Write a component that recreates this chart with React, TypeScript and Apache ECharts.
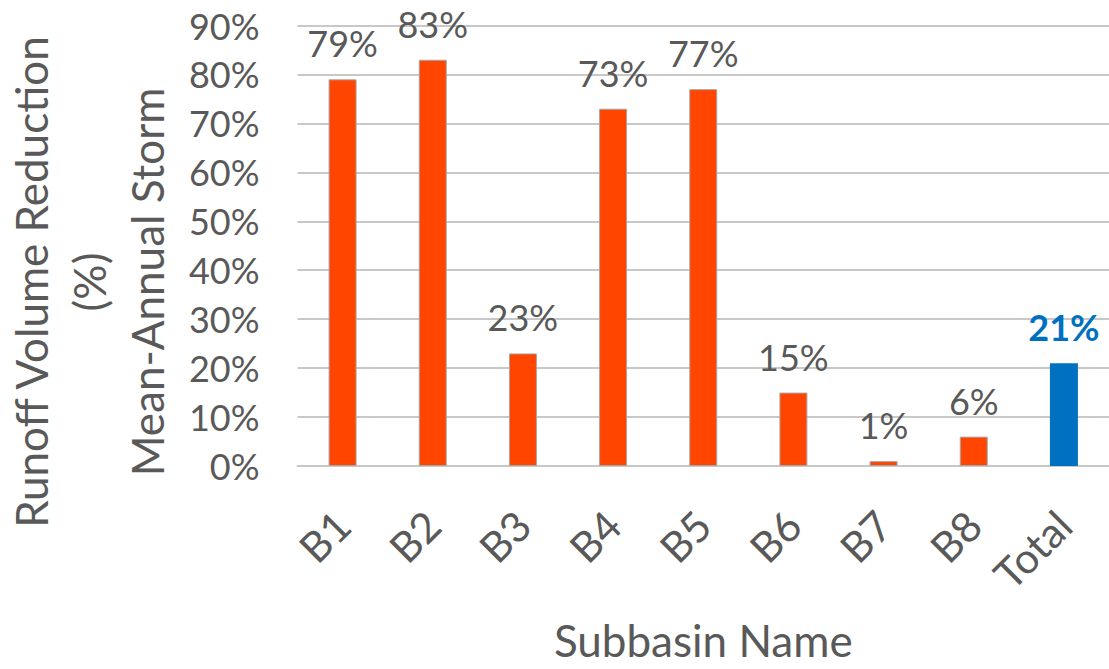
import React, { useEffect, useRef } from "react";
import * as echarts from "echarts";

const categories = ["B1", "B2", "B3", "B4", "B5", "B6", "B7", "B8", "Total"];
const values = [79, 83, 23, 73, 77, 15, 1, 6, 21];
const yTicks = [0, 10, 20, 30, 40, 50, 60, 70, 80, 90];
const yTitleLines = ["Runoff Volume Reduction", "(%)", "Mean-Annual Storm"];
const xTitle = "Subbasin Name";

const FONT = "Lato, 'Open Sans', sans-serif";
const GRAY = "#595959";
const ORANGE = "#FF4500";
const BLUE = "#0070C0";

export default function App() {
  const ref = useRef<HTMLDivElement>(null);
  useEffect(() => {
    if (!ref.current) return;
    const chart = echarts.init(ref.current, undefined, { renderer: "svg" });
    const lineX = [31, 89, 147];
    chart.setOption({
      animation: false,
      textStyle: { fontFamily: FONT },
      grid: { left: 297.5, right: -3, top: 25.5, bottom: 203, containLabel: false },
      xAxis: {
        type: "category",
        data: categories,
        name: xTitle,
        nameLocation: "middle",
        nameGap: 152,
        nameTextStyle: { fontSize: 44, color: GRAY, fontFamily: FONT },
        axisLine: { show: true, lineStyle: { color: "#c8c8c8", width: 2 } },
        axisTick: { show: false },
        axisLabel: { rotate: 45, fontSize: 42, color: GRAY, fontFamily: FONT, margin: 52, interval: 0 },
      },
      yAxis: {
        type: "value",
        min: 0,
        max: 90,
        interval: 10,
        axisLine: { show: false },
        axisTick: { show: false },
        splitLine: { lineStyle: { color: "#c8c8c8", width: 2 } },
        axisLabel: {
          fontSize: 36,
          color: GRAY,
          fontFamily: FONT,
          margin: 38,
          formatter: (v: number) => (yTicks.includes(v) ? v + "%" : ""),
        },
      },
      graphic: yTitleLines.map((t, i) => ({
        type: "text",
        x: lineX[i],
        y: 282,
        rotation: Math.PI / 2,
        style: {
          text: t,
          fill: GRAY,
          font: `44px ${FONT}`,
          align: "center",
          verticalAlign: "middle",
        },
      })),
      series: [
        {
          type: "bar",
          barWidth: 28,
          data: values.map((v, i) => {
            const isTotal = categories[i] === "Total";
            return {
              value: v,
              itemStyle: {
                color: isTotal ? BLUE : ORANGE,
                borderColor: "#a6a6a6",
                borderWidth: isTotal ? 0 : 1,
              },
              label: isTotal
                ? { color: BLUE, fontWeight: "bold" }
                : undefined,
            };
          }),
          label: {
            show: true,
            position: "top",
            distance: 18,
            fontSize: 36,
            color: GRAY,
            fontFamily: FONT,
            formatter: (p: any) => p.value + "%",
          },
        },
      ],
    });
    return () => chart.dispose();
  }, []);
  return <div ref={ref} style={{ width: 1109, height: 669, position: "absolute", left: 0, top: 0 }} />;
}
